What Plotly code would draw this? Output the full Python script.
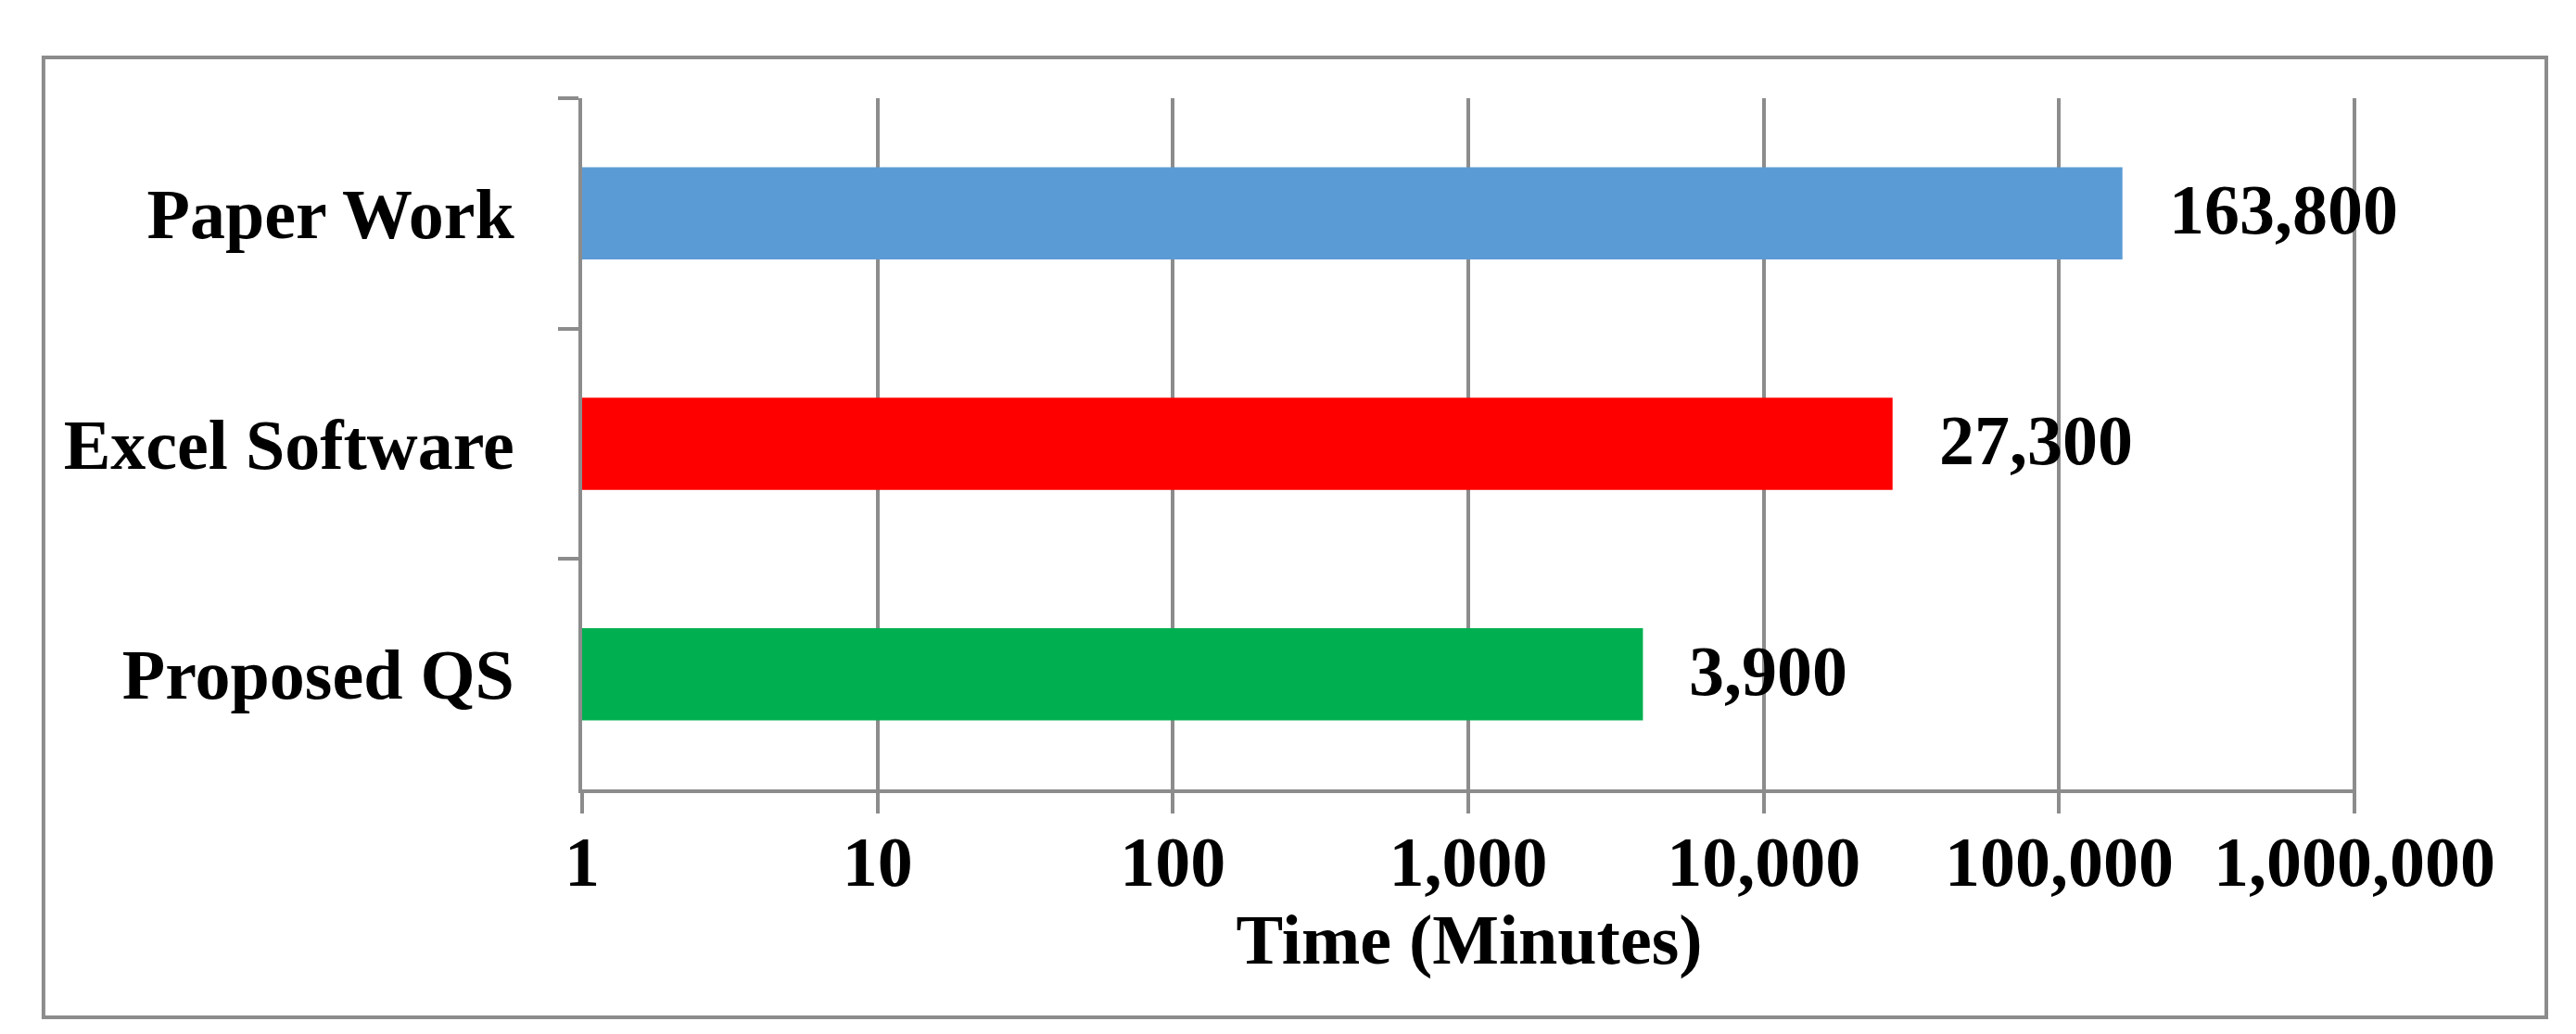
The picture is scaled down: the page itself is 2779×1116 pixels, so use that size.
"""Time comparison of quantity surveying approaches as a horizontal log-scale bar chart."""

import math

import plotly.graph_objects as go

CATEGORIES = ["Paper Work", "Excel Software", "Proposed QS"]
MINUTES = [163800, 27300, 3900]
BAR_COLORS = ["#5B9BD5", "#FF0000", "#00B050"]

TICK_VALUES = [1, 10, 100, 1000, 10000, 100000, 1000000]
TICK_LABELS = ["1", "10", "100", "1,000", "10,000", "100,000", "1,000,000"]

AXIS_TITLE = "Time (Minutes)"

GREY = "#8C8C8C"
FONT = {"family": "Liberation Serif", "size": 76, "color": "black", "weight": "bold"}


def plot_time_comparison():
    """Build the bar chart figure."""
    fig = go.Figure()

    fig.add_trace(
        go.Bar(
            x=MINUTES,
            y=CATEGORIES,
            orientation="h",
            marker={"color": BAR_COLORS, "line": {"width": 0}},
            showlegend=False,
        )
    )

    _add_value_labels(fig)
    _add_outer_border(fig)
    _add_layout(fig)

    return fig


def _add_value_labels(fig):
    """Write the values just right of the bar ends."""
    for cat, val in zip(CATEGORIES, MINUTES):
        fig.add_annotation(
            x=math.log10(val),
            y=cat,
            text=f"{val:,}",
            showarrow=False,
            xanchor="left",
            yanchor="middle",
            xshift=48,
            yshift=4,
            font=FONT,
        )


def _add_outer_border(fig):
    """Grey frame round the whole chart."""
    fig.add_shape(
        type="rect",
        xref="paper",
        yref="paper",
        x0=-0.3036,
        x1=1.1071,
        y0=-0.3298,
        y1=1.059,
        line={"color": GREY, "width": 4},
        fillcolor="rgba(0,0,0,0)",
        layer="below",
    )


def _add_layout(fig):
    fig.update_layout(
        width=2779,
        height=1116,
        margin={"l": 620, "r": 245, "t": 98, "b": 272},
        paper_bgcolor="white",
        plot_bgcolor="white",
        bargap=0.6,
        font=FONT,
    )

    # range goes a hair past 10^6 so plotly keeps the last grid line
    fig.update_xaxes(
        type="log",
        range=[0, 6.006],
        tickvals=TICK_VALUES,
        ticktext=TICK_LABELS,
        showgrid=True,
        gridcolor=GREY,
        gridwidth=4,
        showline=True,
        linecolor=GREY,
        linewidth=4,
        ticks="outside",
        ticklen=22,
        tickwidth=4,
        tickcolor=GREY,
        tickfont=FONT,
        ticklabelstandoff=-13,
        title={"text": AXIS_TITLE, "font": FONT, "standoff": 16},
        zeroline=False,
    )

    fig.update_yaxes(
        autorange="reversed",
        showgrid=False,
        showline=True,
        linecolor=GREY,
        linewidth=4,
        ticks="outside",
        tickson="boundaries",
        ticklen=22,
        tickwidth=4,
        tickcolor=GREY,
        tickfont=FONT,
        ticklabelstandoff=54,
        zeroline=False,
    )


fig = plot_time_comparison()
fig.write_html("out.html")
